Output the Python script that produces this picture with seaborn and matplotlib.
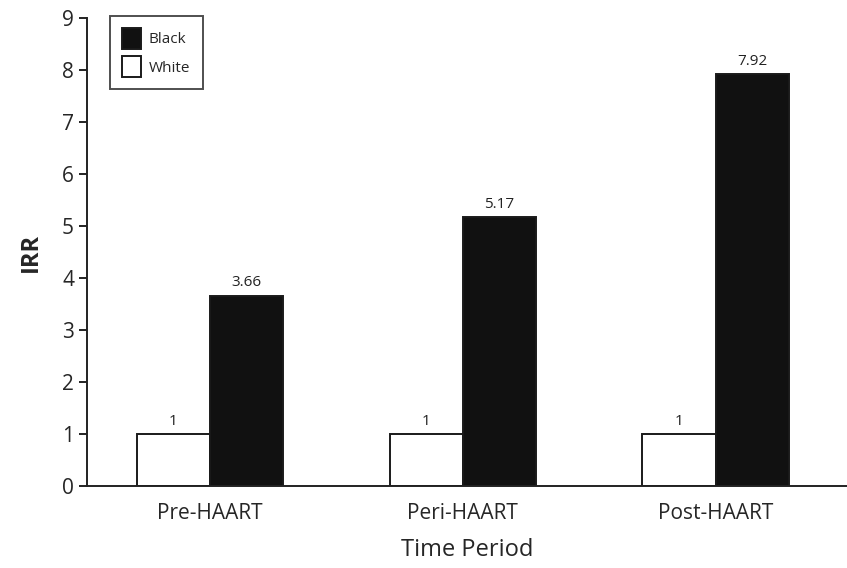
import pandas as pd
import numpy as np
import matplotlib
matplotlib.use("Agg")
import matplotlib.pyplot as plt
import seaborn as sns

periods = ["Pre-HAART", "Peri-HAART", "Post-HAART"]
white_irr = [1, 1, 1]
black_irr = [3.66, 5.17, 7.92]
white_labels = ["1", "1", "1"]
black_labels = ["3.66", "5.17", "7.92"]

df = pd.DataFrame({
    "period": periods * 2,
    "race": ["White"] * 3 + ["Black"] * 3,
    "irr": white_irr + black_irr,
})

sns.set_style("ticks")
plt.rcParams["font.family"] = ["Open Sans", "DejaVu Sans"]

fig = plt.figure(figsize=(8.47, 5.68), dpi=100)
ax = fig.add_axes([0.103, 0.144, 0.897, 0.824])

sns.barplot(data=df, x="period", y="irr", hue="race", hue_order=["White", "Black"],
            palette={"White": "white", "Black": "#111111"}, width=0.58,
            edgecolor="#1a1a1a", linewidth=1.4, ax=ax)

# value labels above bars
for cont, labs in zip(ax.containers, [white_labels, black_labels]):
    ax.bar_label(cont, labels=labs, padding=4, fontsize=11, color="#222222")

ax.set_ylim(0, 9)
ax.set_xlim(-0.486, 2.52)
ax.set_yticks(range(10))
ax.tick_params(axis="y", labelsize=15, length=6, width=1.4, color="#222222")
ax.tick_params(axis="x", labelsize=15, length=0, pad=12)
ax.set_ylabel("IRR", fontsize=17, fontweight="bold", labelpad=14)
ax.set_xlabel("Time Period", fontsize=17, labelpad=10)

sns.despine(ax=ax)
for s in ["left", "bottom"]:
    ax.spines[s].set_linewidth(1.4)
    ax.spines[s].set_color("#222222")

handles, labels = ax.get_legend_handles_labels()
order = [labels.index("Black"), labels.index("White")]
leg = ax.legend([handles[i] for i in order], [labels[i] for i in order],
                loc="upper left", bbox_to_anchor=(0.03, 1.005), borderaxespad=0,
                fontsize=11, frameon=True, fancybox=False, edgecolor="#222222",
                handlelength=1.25, handleheight=1.7, borderpad=0.8, labelspacing=0.5,
                handletextpad=0.5)
leg.get_frame().set_linewidth(1.4)

fig.savefig("out.png", dpi=100)
